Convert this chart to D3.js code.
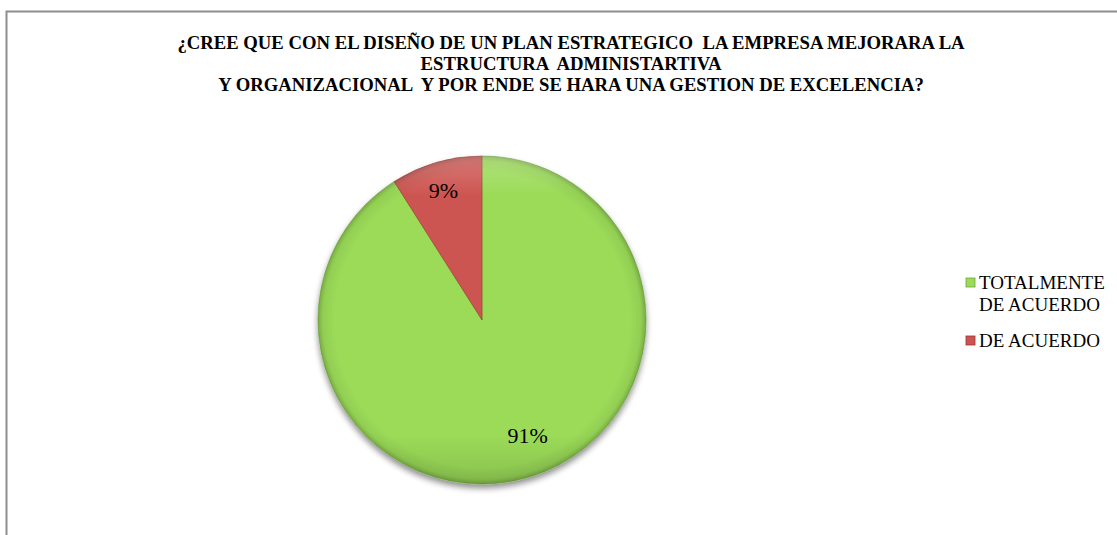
<!DOCTYPE html>
<html>
<head>
<meta charset="utf-8">
<script src="https://cdn.jsdelivr.net/npm/d3@7"></script>
<style>
  html, body { margin: 0; padding: 0; background: #fff; }
  svg { display: block; }
</style>
</head>
<body>
<svg id="chart" width="1117" height="535"></svg>
<script>
const titleLines = [
  "¿CREE QUE CON EL DISEÑO DE UN PLAN ESTRATEGICO  LA EMPRESA MEJORARA LA",
  "ESTRUCTURA  ADMINISTARTIVA",
  "Y ORGANIZACIONAL  Y POR ENDE SE HARA UNA GESTION DE EXCELENCIA?"
];
const categories = ["TOTALMENTE DE ACUERDO", "DE ACUERDO"];
const legendLines = [["TOTALMENTE", "DE ACUERDO"], ["DE ACUERDO"]];
const values = [91, 9];
const labels = ["91%", "9%"];
const colors = ["#9BDB59", "#CD5551"];
const darkColors = ["#6FA83A", "#9A3431"];

const svg = d3.select("#chart");
const W = 1117, H = 535;
const serif = "'Liberation Serif', 'Times New Roman', 'DejaVu Serif', serif";

// defs: shadow + bevel gradients
const defs = svg.append("defs");
const f = defs.append("filter").attr("id", "shadow").attr("x", "-20%").attr("y", "-20%").attr("width", "140%").attr("height", "150%");
f.append("feGaussianBlur").attr("in", "SourceAlpha").attr("stdDeviation", 3).attr("result", "b");
f.append("feOffset").attr("in", "b").attr("dx", 0).attr("dy", 4).attr("result", "o");
f.append("feComponentTransfer").attr("in", "o").attr("result", "o2")
  .append("feFuncA").attr("type", "linear").attr("slope", 0.45);
const m = f.append("feMerge");
m.append("feMergeNode").attr("in", "o2");
m.append("feMergeNode").attr("in", "SourceGraphic");

const rg = defs.append("radialGradient").attr("id", "bevel")
  .attr("cx", "50%").attr("cy", "50%").attr("r", "50%");
rg.append("stop").attr("offset", "0.90").attr("stop-color", "#000").attr("stop-opacity", 0);
rg.append("stop").attr("offset", "0.97").attr("stop-color", "#000").attr("stop-opacity", 0.06);
rg.append("stop").attr("offset", "1").attr("stop-color", "#000").attr("stop-opacity", 0.22);

const lg = defs.append("linearGradient").attr("id", "light")
  .attr("x1", "0").attr("y1", "0").attr("x2", "0").attr("y2", "1");
lg.append("stop").attr("offset", "0").attr("stop-color", "#fff").attr("stop-opacity", 0.22);
lg.append("stop").attr("offset", "0.12").attr("stop-color", "#fff").attr("stop-opacity", 0.0);
lg.append("stop").attr("offset", "0.85").attr("stop-color", "#000").attr("stop-opacity", 0.0);
lg.append("stop").attr("offset", "1").attr("stop-color", "#000").attr("stop-opacity", 0.12);

// chart border
svg.append("rect")
  .attr("x", 6.5).attr("y", 11.5)
  .attr("width", W + 20).attr("height", H + 20)
  .attr("fill", "none")
  .attr("stroke", "#8e8e8e")
  .attr("stroke-width", 2);

// title
const title = svg.append("text")
  .attr("text-anchor", "middle")
  .attr("font-family", serif)
  .attr("font-weight", "bold")
  .attr("font-size", 18.7)
  .attr("fill", "#000");
titleLines.forEach((t, i) => {
  title.append("tspan")
    .attr("x", 571)
    .attr("y", 49 + i * 21.2)
    .attr("xml:space", "preserve")
    .style("white-space", "pre")
    .text(t);
});

// pie
const cx = 482, cy = 320, R = 164;
const pie = d3.pie().sort(null).value(d => d)(values);
const arc = d3.arc().innerRadius(0).outerRadius(R);
const labelArc = d3.arc().innerRadius(R * 0.8).outerRadius(R * 0.8);

const g = svg.append("g").attr("transform", `translate(${cx},${cy})`);
const pg = g.append("g").attr("filter", "url(#shadow)");
pg.selectAll("path.slice")
  .data(pie)
  .join("path")
  .attr("class", "slice")
  .attr("d", arc)
  .attr("fill", (d, i) => colors[i])
  .attr("stroke", (d, i) => darkColors[i])
  .attr("stroke-opacity", 0.55)
  .attr("stroke-width", 1);

// bevel overlays
g.append("circle").attr("r", R).attr("fill", "url(#bevel)").attr("pointer-events", "none");
g.append("circle").attr("r", R).attr("fill", "url(#light)").attr("pointer-events", "none");

// labels
g.selectAll("text.lbl")
  .data(pie)
  .join("text")
  .attr("class", "lbl")
  .attr("transform", (d, i) => {
    const c = labelArc.centroid(d);
    return `translate(${c[0] + (i === 0 ? 9 : -2)},${c[1] + (i === 0 ? -11 : -4)})`;
  })
  .attr("text-anchor", "middle")
  .attr("dy", "0.35em")
  .attr("font-family", serif)
  .attr("font-size", 22)
  .attr("fill", "#000")
  .text((d, i) => labels[i]);

// legend
const legendY = [289, 347];
const lgd = svg.append("g");
categories.forEach((c, i) => {
  lgd.append("rect")
    .attr("x", 966).attr("y", legendY[i] - 11)
    .attr("width", 9).attr("height", 9)
    .attr("fill", colors[i])
    .attr("stroke", darkColors[i])
    .attr("stroke-width", 0.8);
  const t = lgd.append("text")
    .attr("font-family", serif)
    .attr("font-size", 19)
    .attr("fill", "#000");
  legendLines[i].forEach((ln, j) => {
    t.append("tspan").attr("x", 979).attr("y", legendY[i] + j * 22).text(ln);
  });
});
</script>
</body>
</html>
